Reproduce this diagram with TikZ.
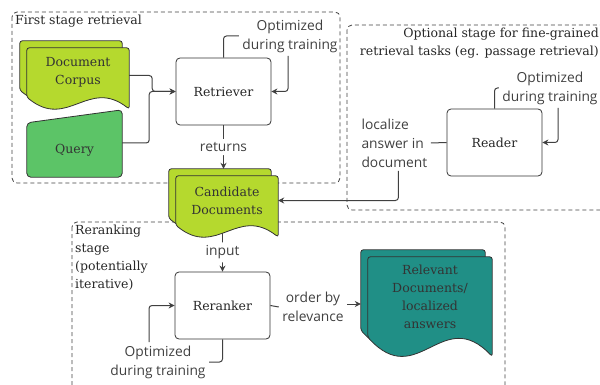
\documentclass[tikz,border=0pt]{standalone}
\usepackage{fontspec}
\setmainfont{DejaVu Serif}
\newfontfamily\lblfont{Open Sans}
\usetikzlibrary{arrows.meta,calc,backgrounds}
\definecolor{docgreen}{HTML}{B5D92E}
\definecolor{querygreen}{HTML}{5CC467}
\definecolor{relteal}{HTML}{208F86}
\newcommand\boxfont{\fontsize{12.5}{18}\selectfont}
\newcommand\docsheet[3]{%
  \draw[sheet, fill=#2] let \p1=(#1.north west), \p2=(#1.south east),
      \n1={0.24*(\y1-\y2)}, \n2={#3} in
    ({\x1-\n2},{\y2+\n2}) -- ({\x1-\n2},{\y1+\n2}) -- ({\x2-\n2},{\y1+\n2})
    -- ({\x2-\n2},{\y2-\n1+\n2})
    .. controls ({\x1+0.6*(\x2-\x1)-\n2},{\y2+1.7*\n1+\n2})
    and ({\x1+0.4*(\x2-\x1)-\n2},{\y2-2.8*\n1+\n2}) .. ({\x1-\n2},{\y2+\n2}) -- cycle;}

\begin{document}
\begin{tikzpicture}[x=1pt, y=-1pt,
    box/.style = {draw=black!80, fill=white, rounded corners=4pt, line width=0.8pt,
      minimum width=95pt, minimum height=67pt, font=\boxfont, text=black!85},
    docbox/.style = {inner sep=0pt, font=\boxfont, align=center, text=black!80},
    sheet/.style = {draw=black!80, line width=0.8pt, rounded corners=2.5pt},
    stage/.style = {draw=black!75, line width=0.8pt, dash pattern=on 4pt off 3pt,
      rounded corners=5pt},
    title/.style = {font=\boxfont, inner sep=2pt, text=black!85},
    lbl/.style = {font=\lblfont\fontsize{13.8}{19}\selectfont, align=center, text=black!75},
    conn/.style = {draw=black!75, line width=1pt, rounded corners=3pt,
      -{Stealth[length=6pt, width=6pt]}},
    link/.style = {draw=black!75, line width=1pt, rounded corners=3pt}]
\useasboundingbox (0,0) rectangle (600,385);

\node[box] (retriever) at (223.5,91.5) {Retriever};
\node[box] (reader) at (494.5,142.5) {Reader};
\node[box] (reranker) at (222.5,305.5) {Reranker};
\node[docbox, minimum width=102pt, minimum height=49pt] (corpus) at (78,72.5) {Document\\Corpus};
\node[docbox, minimum width=95pt, minimum height=54pt] (query) at (74.5,150) {Query};
\node[docbox, minimum width=102pt, minimum height=49pt] (candidates) at (227,200.5) {Candidate\\Documents};
\node[docbox, minimum width=124pt, minimum height=80pt] (relevant) at (430,297) {Relevant\\Documents/\\localized\\answers};

\node[lbl] (retopt) at (290,36) {Optimized\\during training};
\node[lbl] (readopt) at (550,88) {Optimized\\during training};
\node[lbl] (rrkopt) at (158,362) {Optimized\\during training};
\node[lbl, align=left, anchor=west] (locate) at (358,143) {localize\\answer in\\document};
\node[lbl] (order) at (313,307) {order by\\relevance};

\node[title, anchor=north west] (firsttitle) at (13,13) {First stage retrieval};
\node[title, anchor=north east, align=right] (opttitle) at (601,26)
  {Optional stage for fine-grained\\retrieval tasks (eg. passage retrieval)};
\node[title, anchor=north west, align=left] (rrktitle) at (73,223)
  {Reranking\\stage\\(potentially\\iterative)};

\draw[conn] ([yshift=-3pt]corpus.east) -- ++(23,0) |- (retriever.west);
\draw[conn] ([yshift=7pt]query.east) -- ++(27,0) |- (retriever.west);
\draw[link] (retriever.north) |- (retopt.west);
\draw[conn] ([xshift=-2pt]retopt.south) |- (retriever.east);
\draw[conn] (retriever.south) -- node[lbl, fill=white] (returns) {returns}
  ([yshift=7pt]retriever.south |- candidates.north);
\draw[conn] ([yshift=-8pt]reranker.north |- candidates.south) -- node[lbl, fill=white] (input) {input}
  (reranker.north);
\draw[link] (reranker.south) |- (rrkopt.east);
\draw[conn] ([xshift=-9pt]rrkopt.north) |- (reranker.west);
\draw[link] (reranker.east) -- (order.west);
\coordinate (relin) at ([xshift=-7pt, yshift=-7pt]relevant.west);
\draw[conn] (order.east |- relin) -- (relin);
\draw[link] (locate.east) -- (reader.west);
\draw[conn] ([xshift=4pt]locate.south) |- (candidates.east);
\draw[link] (reader.north) |- (readopt.west);
\draw[conn] ([xshift=8pt]readopt.south) |- (reader.east);

\begin{scope}[on background layer]
  \draw[stage] (12,12) rectangle (340,183);
  \draw[stage] (347,25) rectangle (608,210);
  \draw[stage] (72,222) rectangle (505,393);
  \docsheet{corpus}{docgreen}{7}
  \docsheet{corpus}{docgreen}{0}
  \draw[sheet, fill=querygreen, rounded corners=4pt] (query.south west) -- (query.north west)
    -- ([yshift=13pt]query.north east) -- (query.south east) -- cycle;
  \docsheet{candidates}{docgreen}{7}
  \docsheet{candidates}{docgreen}{0}
  \docsheet{relevant}{relteal}{7}
  \docsheet{relevant}{relteal}{0}
\end{scope}
\end{tikzpicture}
\end{document}
